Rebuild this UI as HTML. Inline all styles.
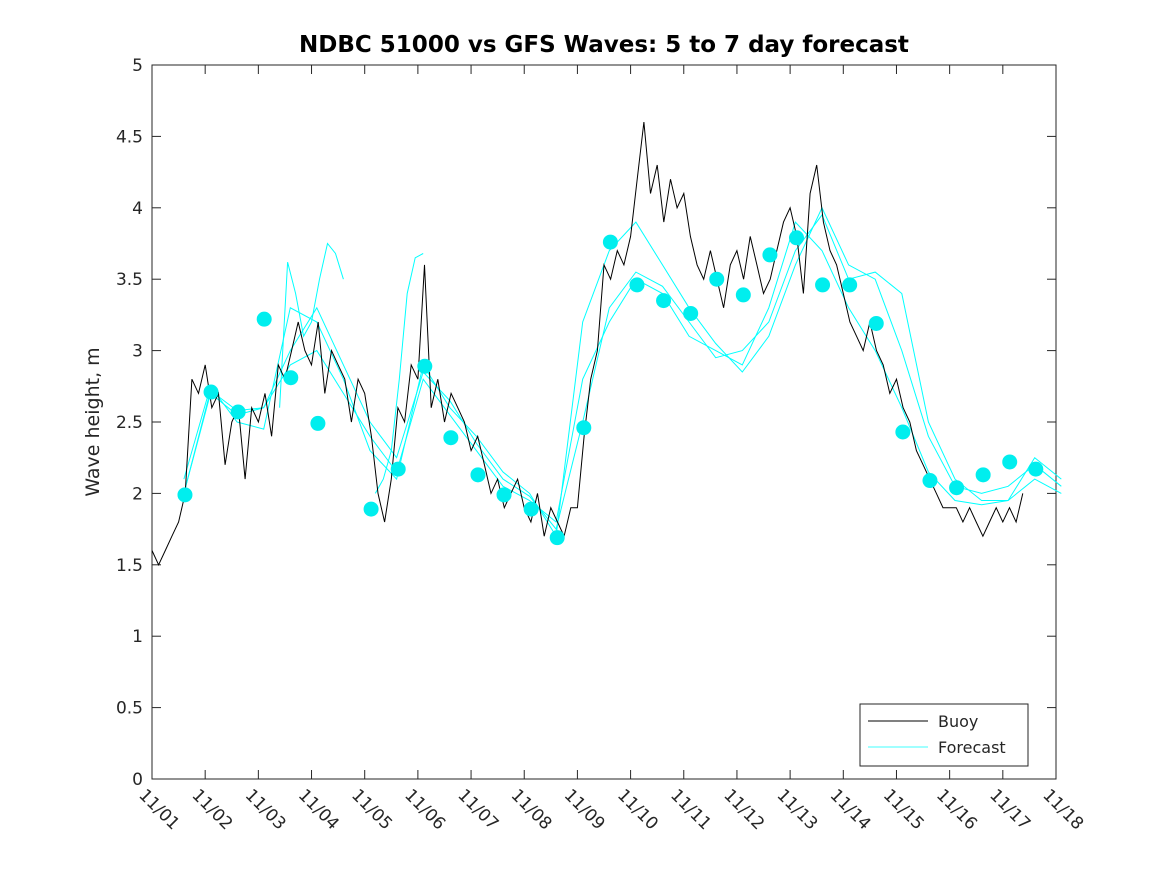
<!DOCTYPE html>
<html><head><meta charset="utf-8"><style>
body{margin:0;background:#fff;}
svg text{font-family:"DejaVu Sans","Liberation Sans",sans-serif;fill:#262626;}
</style></head><body>
<svg id="chart" width="1167" height="875" viewBox="0 0 1167 875">
<rect x="0" y="0" width="1167" height="875" fill="#fff"/>
<text x="604" y="52" text-anchor="middle" font-size="23" font-weight="bold" style="fill:#000">NDBC 51000 vs GFS Waves: 5 to 7 day forecast</text>
<g id="plot"></g>
<text transform="translate(99,422) rotate(-90)" text-anchor="middle" font-size="19">Wave height, m</text>
<g id="legend">
<rect x="860" y="704" width="168" height="62" fill="#fff" stroke="#262626" stroke-width="1"/>
<line x1="868" y1="721" x2="928" y2="721" stroke="#000" stroke-width="1"/>
<text x="938" y="727" font-size="16">Buoy</text>
<line x1="868" y1="747" x2="928" y2="747" stroke="#00ffff" stroke-width="0.7"/>
<text x="938" y="753" font-size="16">Forecast</text>
</g>
</svg>
<script>
const xTickLabels=["11/01","11/02","11/03","11/04","11/05","11/06","11/07","11/08","11/09","11/10","11/11","11/12","11/13","11/14","11/15","11/16","11/17","11/18"];
const yTicks=[0,0.5,1,1.5,2,2.5,3,3.5,4,4.5,5];
const yTickLabels=["0","0.5","1","1.5","2","2.5","3","3.5","4","4.5","5"];
const buoyStart=0, buoyStep=0.125;
const buoyValues=[1.6,1.5,1.6,1.7,1.8,2.0,2.8,2.7,
2.9,2.6,2.7,2.2,2.5,2.6,2.1,2.6,
2.5,2.7,2.4,2.9,2.8,3.0,3.2,3.0,
2.9,3.2,2.7,3.0,2.9,2.8,2.5,2.8,
2.7,2.4,2.0,1.8,2.1,2.6,2.5,2.9,
2.8,3.6,2.6,2.8,2.5,2.7,2.6,2.5,
2.3,2.4,2.2,2.0,2.1,1.9,2.0,2.1,
1.9,1.8,2.0,1.7,1.9,1.8,1.7,1.9,
1.9,2.4,2.8,3.0,3.6,3.5,3.7,3.6,
3.8,4.2,4.6,4.1,4.3,3.9,4.2,4.0,
4.1,3.8,3.6,3.5,3.7,3.5,3.3,3.6,
3.7,3.5,3.8,3.6,3.4,3.5,3.7,3.9,
4.0,3.8,3.4,4.1,4.3,3.9,3.7,3.6,
3.4,3.2,3.1,3.0,3.2,3.0,2.9,2.7,
2.8,2.6,2.5,2.3,2.2,2.1,2.0,1.9,
1.9,1.9,1.8,1.9,1.8,1.7,1.8,1.9,
1.8,1.9,1.8,2.0];
const fcStart=0.6, fcStep=0.5;
const forecastA=[2.0,2.72,2.58,2.6,2.9,3.0,2.7,2.4,2.15,2.8,2.55,2.3,2.05,1.95,1.8,2.8,3.2,3.5,3.4,3.1,3.0,2.9,3.3,3.9,3.7,3.3,3.0,2.6,2.15,1.95,1.92,1.95,2.1,2.0];
const forecastB=[2.1,2.75,2.5,2.45,3.3,3.2,2.8,2.3,2.1,2.9,2.6,2.4,2.15,2.0,1.7,3.2,3.7,3.9,3.6,3.3,3.05,2.85,3.1,3.6,4.0,3.6,3.5,3.0,2.4,2.05,2.0,2.05,2.2,2.05];
const forecastC=[2.0,2.7,2.55,2.6,3.0,3.3,2.9,2.5,2.25,2.85,2.65,2.35,2.1,1.98,1.75,2.5,3.3,3.55,3.45,3.2,2.95,3.0,3.2,3.7,3.95,3.5,3.55,3.4,2.5,2.1,1.95,1.95,2.25,2.1];
const short1Start=2.4, short1Step=0.15;
const short1=[2.6,3.62,3.4,3.1,3.2,3.5,3.75,3.68,3.5];
const short2Start=4.2, short2Step=0.15;
const short2=[2.0,2.1,2.3,2.8,3.4,3.65,3.68];
const dotDays=[0.62,1.11,1.62,2.11,2.61,3.12,4.12,4.63,5.13,5.62,6.13,6.62,7.13,7.62,8.12,8.62,9.12,9.62,10.13,10.62,11.12,11.62,12.12,12.61,13.12,13.62,14.12,14.63,15.13,15.63,16.13,16.62];
const dotValues=[1.99,2.71,2.57,3.22,2.81,2.49,1.89,2.17,2.89,2.39,2.13,1.99,1.89,1.69,2.46,3.76,3.46,3.35,3.26,3.50,3.39,3.67,3.79,3.46,3.46,3.19,2.43,2.09,2.04,2.13,2.22,2.17];

const X0=152,X1=1056,Y0=779,Y1=65;
const xs=d=>X0+(X1-X0)*d/17;
const ys=v=>Y0-(Y0-Y1)*v/5;
const NS="http://www.w3.org/2000/svg";
const plot=document.getElementById('plot');
function mk(t,a){const e=document.createElementNS(NS,t);for(const k in a)e.setAttribute(k,a[k]);return e;}

const frame=mk('rect',{x:X0,y:Y1,width:X1-X0,height:Y0-Y1,fill:'none',stroke:'#262626','stroke-width':1});


plot.appendChild(frame);

yTicks.forEach((v,i)=>{
  const y=ys(v);
  const t1=mk('line',{x1:X0,y1:y,x2:X0+9,y2:y,stroke:'#262626'});
  
  
  plot.appendChild(t1);
  const t2=mk('line',{x1:X1,y1:y,x2:X1-9,y2:y,stroke:'#262626'});
  
  
  plot.appendChild(t2);
  const tx=mk('text',{x:X0-9,y:y+6,'text-anchor':'end','font-size':17});
  tx.textContent=yTickLabels[i];
  
  
  plot.appendChild(tx);
});
xTickLabels.forEach((lab,i)=>{
  const x=xs(i);
  const t1=mk('line',{x1:x,y1:Y0,x2:x,y2:Y0-9,stroke:'#262626'});
  
  
  plot.appendChild(t1);
  const t2=mk('line',{x1:x,y1:Y1,x2:x,y2:Y1+9,stroke:'#262626'});
  
  
  plot.appendChild(t2);
  const tx=mk('text',{transform:`translate(${x-14},${Y0+17}) rotate(45)`,'font-size':17});
  tx.textContent=lab;
  
  
  plot.appendChild(tx);
});

function pathFrom(start,step,vals){return vals.map((v,i)=>(i?'L':'M')+xs(start+i*step).toFixed(1)+' '+ys(v).toFixed(1)).join(' ');}

[[forecastA,fcStart,fcStep],[forecastB,fcStart,fcStep],[forecastC,fcStart,fcStep],[short1,short1Start,short1Step],[short2,short2Start,short2Step]].forEach(([vals,s,st])=>{
  const p=mk('path',{d:pathFrom(s,st,vals),fill:'none',stroke:'#00ffff','stroke-width':1});
  
  
  plot.appendChild(p);
});

const bp=mk('path',{d:pathFrom(buoyStart,buoyStep,buoyValues),fill:'none',stroke:'#000','stroke-width':1});


plot.appendChild(bp);

dotDays.forEach((d,i)=>{
  const c=mk('circle',{cx:xs(d),cy:ys(dotValues[i]),r:7.5,fill:'#00eeee'});
  
  
  plot.appendChild(c);
});
</script>
</body></html>
